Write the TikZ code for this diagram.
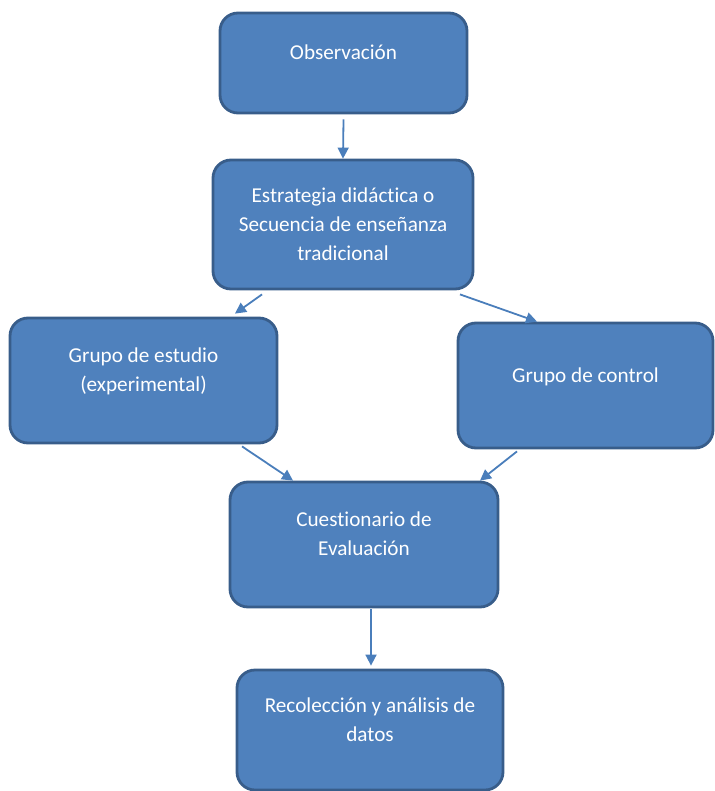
\documentclass[tikz,border=0pt]{standalone}
\usepackage{fontspec}
\setmainfont{Carlito}[Ligatures=NoCommon]
\usetikzlibrary{arrows.meta, calc, positioning}
\usepackage{xcolor}
\definecolor{boxfill}{HTML}{4F81BD}
\definecolor{boxedge}{HTML}{385D8A}
\definecolor{flowline}{HTML}{4A7EBB}

\begin{document}
\begin{tikzpicture}[%
    x=0.5pt, y=-0.5pt,
    >={Triangle[length=5.5pt,width=5.5pt]},
    every node/.style={%
      font=\fontsize{10.6}{14.5}\selectfont,
      text=white,
      text centered,
      align=center
    },
    stage/.style={draw=boxedge, fill=boxfill, line width=1.4pt,
      rounded corners=9pt, inner sep=0pt},
    lifted/.style={text depth=10.5pt},
    flow/.style={->, draw=flowline, line width=0.9pt}
  ]
  \useasboundingbox (0,0) rectangle (715,791);

  \node[stage, lifted, minimum width=123.5pt, minimum height=50pt]
    (obs) at (343.5,63)
    {Observación};
  \node[stage, minimum width=130pt, minimum height=64.5pt]
    (estr) at (343,224.5)
    {Estrategia didáctica o\\Secuencia de enseñanza\\tradicional};
  \node[stage, lifted, minimum width=133.5pt, minimum height=62.5pt]
    (estudio) at (143.5,380.5)
    {Grupo de estudio\\(experimental)};
  \node[stage, lifted, minimum width=127.5pt, minimum height=62.5pt]
    (control) at (585.5,385.5)
    {Grupo de control};
  \node[stage, lifted, minimum width=134pt, minimum height=62.5pt]
    (cuest) at (364,544.5)
    {Cuestionario de\\Evaluación};
  \node[stage, lifted, minimum width=133pt, minimum height=60pt]
    (recol) at (370,730)
    {Recolección y análisis de\\datos};

  % Arrows
  \draw[flow] ($(obs.south)+(0,5)$) -- (estr.north);
  \draw[flow] ($(estr.south)+(-81,4)$) -- ($(estudio.north)+(91.5,-3)$);
  \draw[flow] ($(estr.south)+(117,4)$) -- ($(control.north)+(-48.5,0)$);
  \draw[flow] ($(estudio.south)+(98.5,2)$) -- ($(cuest.north)+(-71,0)$);
  \draw[flow] ($(control.south)+(-68.5,2)$) -- ($(cuest.north)+(116,0)$);
  \draw[flow] ($(cuest.south)+(7,1)$) -- ($(recol.north)+(1,-3)$);

\end{tikzpicture}
\end{document}
